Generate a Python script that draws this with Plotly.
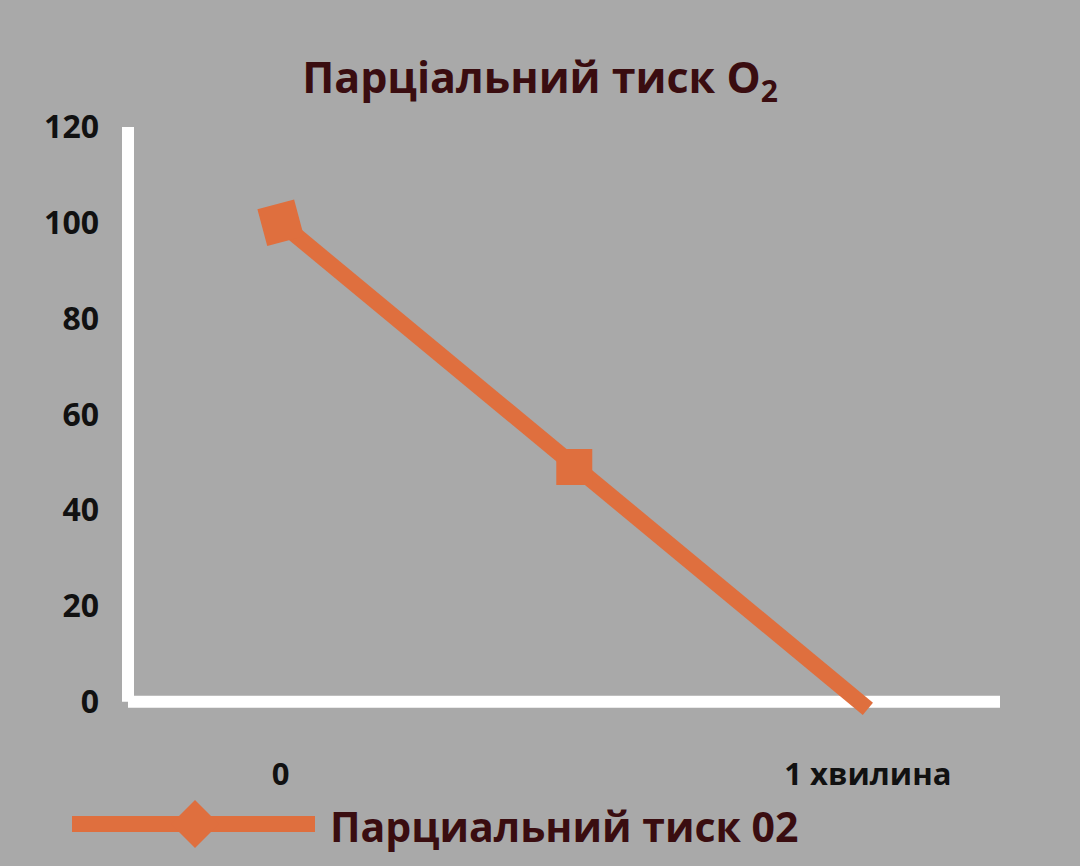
import plotly.graph_objects as go

x_pos = [0, 1, 2]
pressure = [100, 49, -1.5]
x_tick_vals = [0, 2]
x_tick_text = ["0", "1 хвилина"]
y_tick_vals = [0, 20, 40, 60, 80, 100, 120]
series_name = "Парциальний тиск 02"
title_text = "Парціальний тиск O<sub>2</sub>"

orange = "#df6f3e"
maroon = "#3a0d10"
bg = "#a9a9a9"

PT, PB, PL, PR = 127, 716, 128, 1000
PH, PW = PB - PT, PR - PL


def px(x):
    return (x - PL) / PW


def py(y):
    return (PB - y) / PH


fig = go.Figure()
fig.add_trace(go.Scatter(
    x=x_pos, y=pressure, mode="lines", name=series_name,
    line=dict(color=orange, width=16),
    showlegend=False,
))
fig.add_trace(go.Scatter(
    x=x_pos[:2], y=pressure[:2], mode="markers", name=series_name,
    marker=dict(symbol="square", size=[38, 36], angle=[-15, 0], color=orange,
                opacity=1, line=dict(width=0)),
    showlegend=False, cliponaxis=False,
))

fig.update_layout(
    width=1080, height=866,
    paper_bgcolor=bg, plot_bgcolor=bg,
    margin=dict(l=PL, r=1080 - PR, t=PT, b=866 - PB),
    title=dict(text=title_text, x=0.5, xanchor="center", y=0.91, yanchor="middle",
               font=dict(family="Open Sans", size=43, color=maroon, weight="bold")),
    xaxis=dict(range=[-0.52, 2.45], tickvals=x_tick_vals, ticktext=x_tick_text,
               showgrid=False, zeroline=False, showline=False, ticks="",
               ticklabelstandoff=37,
               tickfont=dict(family="Open Sans", size=31, color="#111111", weight="bold")),
    yaxis=dict(range=[-3, 120], tickvals=y_tick_vals, showgrid=False, zeroline=False,
               showline=False, ticks="", ticklabelstandoff=28,
               tickfont=dict(family="Open Sans", size=32, color="#111111", weight="bold")),
    shapes=[
        dict(type="line", xref="paper", yref="y", x0=0, x1=0, y0=0, y1=120,
             line=dict(color="white", width=12), layer="below"),
        dict(type="line", xref="paper", yref="y", x0=0, x1=1, y0=0, y1=0,
             line=dict(color="white", width=12), layer="below"),
        dict(type="line", xref="paper", yref="paper",
             x0=px(72), x1=px(315), y0=py(824), y1=py(824),
             line=dict(color=orange, width=16)),
        dict(type="path", xref="paper", yref="paper",
             path="M {a},{b} L {c},{d} L {a},{e} L {f},{d} Z".format(
                 a=px(195), b=py(800), c=px(219), d=py(824), e=py(848), f=px(171)),
             fillcolor=orange, line=dict(width=0)),
    ],
    annotations=[
        dict(text=series_name, xref="paper", yref="paper",
             x=px(328), y=py(826), xanchor="left", yanchor="middle",
             showarrow=False,
             font=dict(family="Open Sans", size=41, color=maroon, weight="bold")),
    ],
)

fig.write_html("out.html")
